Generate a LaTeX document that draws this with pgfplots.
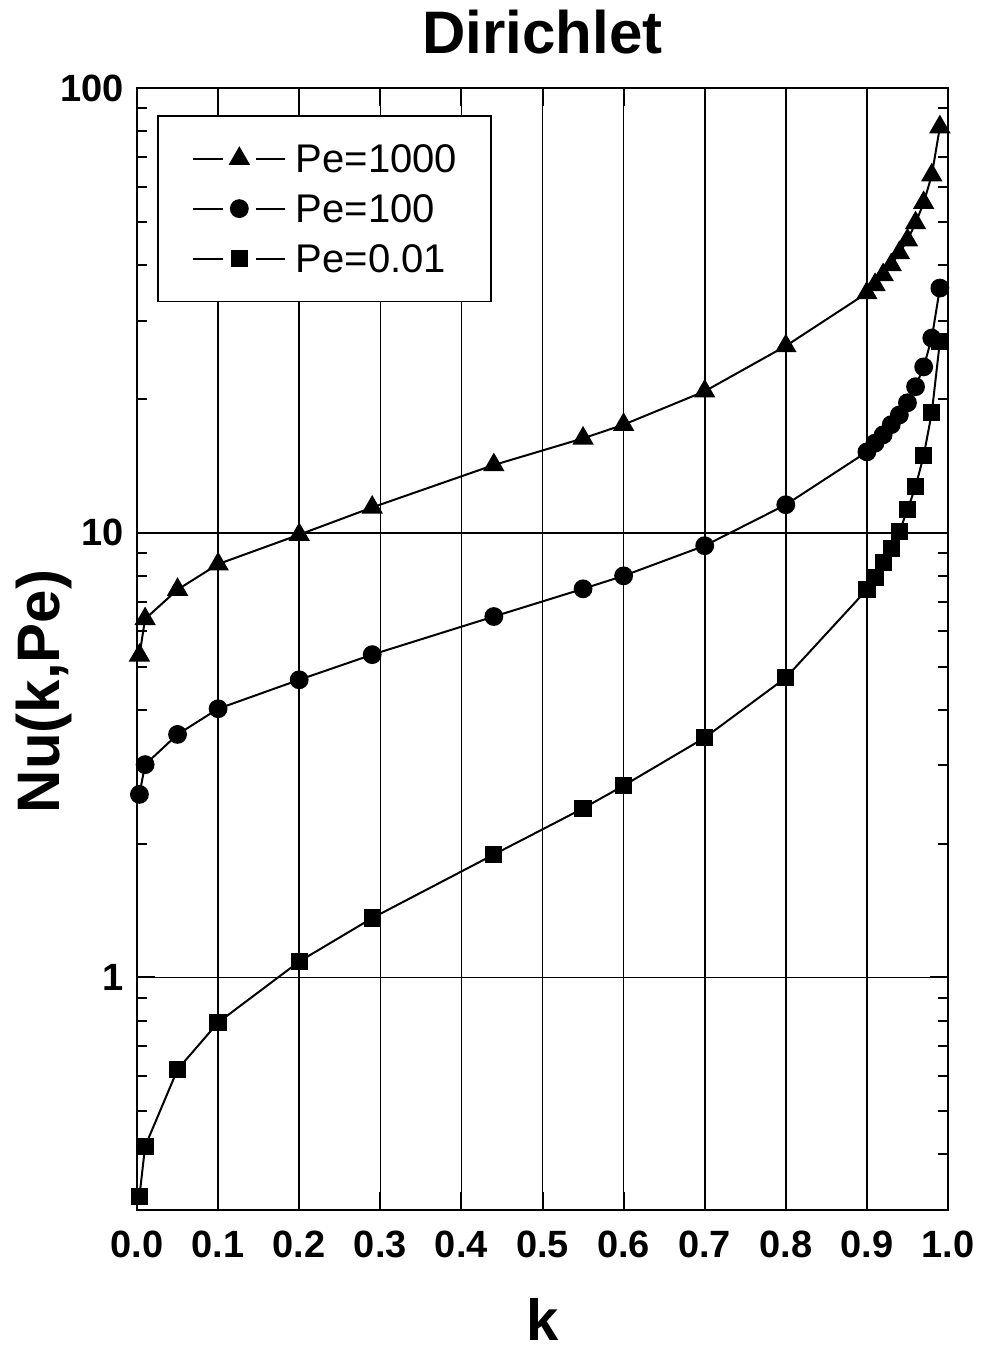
\documentclass[border=0pt]{standalone}
\usepackage{pgfplots}
\pgfplotsset{compat=1.18}
\usepackage{fontspec}
\setmainfont{Liberation Sans}

\pgfplotstableread{
x y
0.003 5.3
0.01 6.4
0.05 7.45
0.1 8.5
0.2 9.9
0.29 11.4
0.44 14.2
0.55 16.3
0.6 17.5
0.7 20.8
0.8 26.3
0.9 34.6
0.91 36.1
0.92 38.0
0.93 40.0
0.94 42.6
0.95 45.5
0.96 49.7
0.97 55.2
0.98 63.7
0.99 81.7
}\peA

\pgfplotstableread{
x y
0.003 2.58
0.01 3.01
0.05 3.52
0.1 4.02
0.2 4.67
0.29 5.32
0.44 6.48
0.55 7.48
0.6 8.0
0.7 9.35
0.8 11.56
0.9 15.2
0.91 15.9
0.92 16.6
0.93 17.5
0.94 18.4
0.95 19.6
0.96 21.3
0.97 23.6
0.98 27.4
0.99 35.5
}\peB

\pgfplotstableread{
x y
0.003 0.322
0.01 0.417
0.05 0.621
0.1 0.792
0.2 1.086
0.29 1.36
0.44 1.89
0.55 2.40
0.6 2.70
0.7 3.46
0.8 4.72
0.9 7.45
0.91 7.93
0.92 8.57
0.93 9.20
0.94 10.05
0.95 11.26
0.96 12.7
0.97 14.9
0.98 18.6
0.99 26.9
}\peC

\begin{document}
\begin{tikzpicture}
\useasboundingbox (-68.5pt,-73pt) rectangle (422.5pt,605pt);
\begin{axis}[
  at={(0pt,0pt)}, anchor=south west,
  scale only axis, width=405.5pt, height=561pt,
  xmin=0, xmax=1, ymin=0.3, ymax=100, ymode=log,
  xtick={0,0.1,0.2,0.3,0.4,0.5,0.6,0.7,0.8,0.9,1},
  xticklabels={0.0,0.1,0.2,0.3,0.4,0.5,0.6,0.7,0.8,0.9,1.0},
  ytick={1,10,100}, yticklabels={1,10,100},
  minor ytick={0.3,0.4,0.5,0.6,0.7,0.8,0.9,2,3,4,5,6,7,8,9,20,30,40,50,60,70,80,90},
  grid=major, major grid style={black, line width=0.8pt},
  minor grid style={draw=none},
  axis line style={black, line width=1.4pt},
  tick align=inside,
  major tick length=9pt, minor tick length=5pt,
  every tick/.style={black, line width=1pt},
  ticklabel style={font=\bfseries\fontsize{19}{19}\selectfont},
  xticklabel style={anchor=base, yshift=-23.5pt},
  yticklabel style={anchor=east, xshift=-3.2pt},
  title={Dirichlet},
  title style={at={(0.5,1)}, anchor=base, yshift=11.5pt, font=\bfseries\fontsize{30}{30}\selectfont},
  xlabel={k},
  xlabel style={at={(axis description cs:0.5,-0.116)}, anchor=base, font=\bfseries\fontsize{29}{29}\selectfont},
  ylabel={Nu(k,Pe)},
  ylabel style={at={(axis description cs:-0.095,0.462)}, anchor=base, rotate=0, font=\bfseries\fontsize{30}{30}\selectfont},
  legend style={at={(axis description cs:0.0247,0.976)}, anchor=north west,
    draw=black, line width=0.8pt, fill=white,
    inner xsep=17pt, inner ysep=14.3pt, row sep=10.7pt, column sep=5pt,
    font=\fontsize{20}{20}\selectfont,
    nodes={inner sep=0pt, text height=14.3pt, text depth=0pt}},
  legend cell align=left,
  legend image code/.code={
    \draw[line width=1pt] (0pt,0pt) -- (15pt,0pt);
    \draw[line width=1pt] (31.5pt,0pt) -- (46pt,0pt);
    \draw[only marks] plot coordinates {(23.25pt,0pt)};
  },
]
\addplot[black, line width=1pt, mark=triangle*, mark size=5.2pt, mark options={fill=black, draw=black}] table[x=x,y=y] {\peA};
\addlegendentry{Pe=1000}
\addplot[black, line width=1pt, mark=*, mark size=4.2pt, mark options={fill=black, draw=black}] table[x=x,y=y] {\peB};
\addlegendentry{Pe=100}
\addplot[black, line width=1pt, mark=square*, mark size=3.8pt, mark options={fill=black, draw=black}] table[x=x,y=y] {\peC};
\addlegendentry{Pe=0.01}
\end{axis}
\end{tikzpicture}
\end{document}
